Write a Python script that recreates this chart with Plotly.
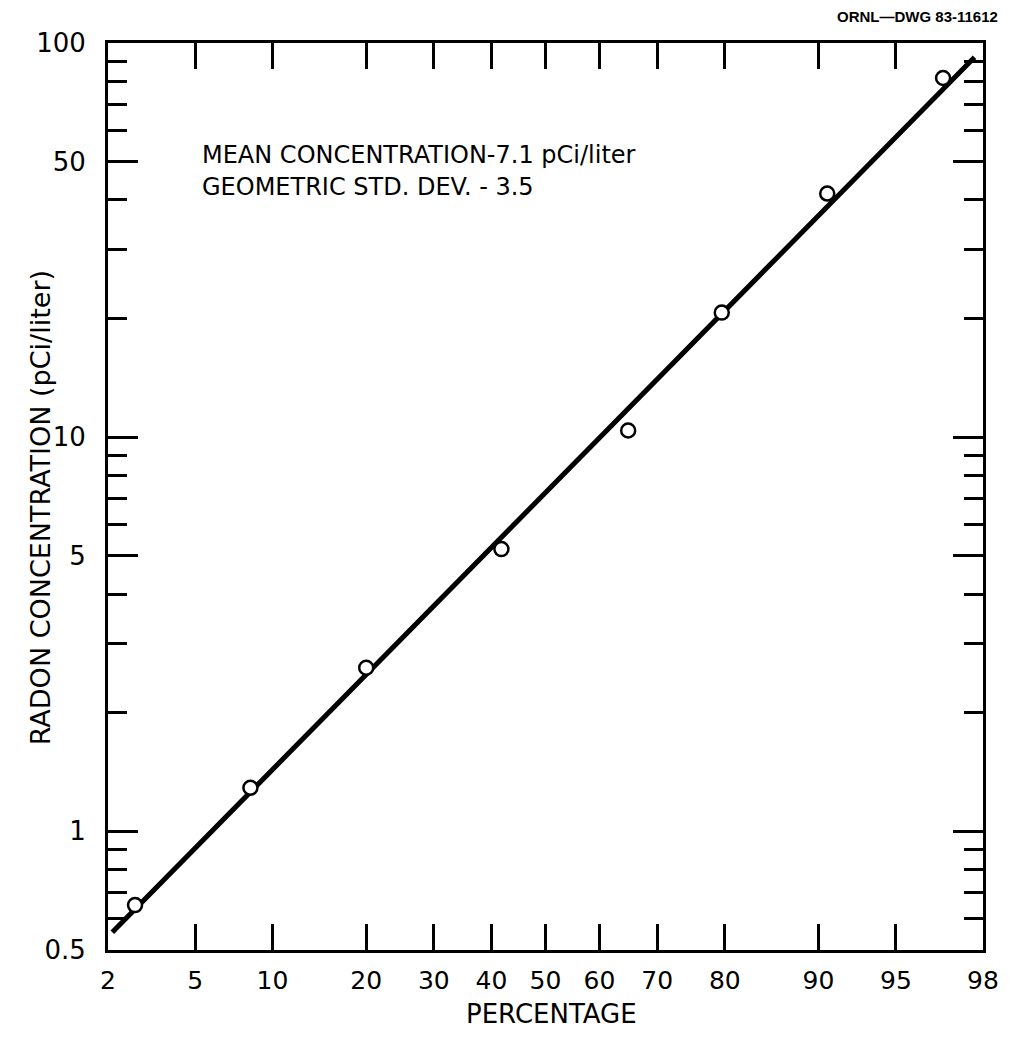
from statistics import NormalDist
import math
import plotly.graph_objects as go

# ---- data ----
pct_ticks = [2, 5, 10, 20, 30, 40, 50, 60, 70, 80, 90, 95, 98]
pct_labels = ["2", "5", "10", "20", "30", "40", "50", "60", "70", "80", "90", "95", "98"]
y_major = [0.5, 1, 5, 10, 50, 100]
y_major_labels = ["0.5", "1", "5", "10", "50", "100"]
y_minor = [0.6, 0.7, 0.8, 0.9, 2, 3, 4, 6, 7, 8, 9, 20, 30, 40, 60, 70, 80, 90]

obs_pct = [2.7, 8.3, 20, 41.8, 65.1, 79.6, 90.7, 96.9]
obs_val = [0.65, 1.29, 2.6, 5.2, 10.4, 20.7, 41.5, 81.5]

fit_pct = [2.1, 97.8]
fit_val = [0.555, 92]

# probability (normal-quantile) scale transform
nd = NormalDist()
def z(p):
    return nd.inv_cdf(p / 100.0)

FONT = "DejaVu Sans"

fig = go.Figure()
fig.add_trace(go.Scatter(
    x=[z(p) for p in fit_pct], y=fit_val, mode="lines",
    line=dict(color="black", width=5), showlegend=False, hoverinfo="skip"))
fig.add_trace(go.Scatter(
    x=[z(p) for p in obs_pct], y=obs_val, mode="markers",
    marker=dict(symbol="circle", size=14, color="white",
                line=dict(color="black", width=2.5)),
    showlegend=False))

fig.update_xaxes(
    range=[z(pct_ticks[0]), z(pct_ticks[-1])],
    tickvals=[z(p) for p in pct_ticks], ticktext=pct_labels,
    ticks="inside", ticklen=26, tickwidth=3, tickcolor="black",
    showline=True, linewidth=3, linecolor="black", mirror="ticks",
    showgrid=False, zeroline=False, automargin=False,
    tickfont=dict(family=FONT, size=25, color="black"),
    ticklabelstandoff=6,
)
fig.update_yaxes(
    type="log", range=[math.log10(0.5), 2],
    tickvals=y_major, ticktext=y_major_labels,
    ticks="inside", ticklen=30, tickwidth=3, tickcolor="black",
    showline=True, linewidth=3, linecolor="black", mirror="ticks",
    showgrid=False, zeroline=False, automargin=False,
    minor=dict(tickvals=y_minor, ticks="inside", ticklen=19, tickwidth=3,
               tickcolor="black", showgrid=False),
    tickfont=dict(family=FONT, size=26, color="black"),
    ticklabelstandoff=14,
)

# axis titles
fig.add_annotation(xref="paper", yref="paper", x=0.507, y=-0.0705,
                   xanchor="center", yanchor="middle", showarrow=False,
                   text="PERCENTAGE",
                   font=dict(family=FONT, size=26, color="black"))
fig.add_annotation(xref="paper", yref="paper", x=-0.0777, y=0.487,
                   xanchor="center", yanchor="middle", showarrow=False,
                   textangle=-90,
                   text="RADON CONCENTRATION (pCi/liter)",
                   font=dict(family=FONT, size=27, color="black"))

# in-plot text
fig.add_annotation(xref="paper", yref="paper", x=0.105, y=0.8765,
                   xanchor="left", yanchor="middle", showarrow=False,
                   text="MEAN CONCENTRATION-7.1 pCi/liter",
                   font=dict(family=FONT, size=24, color="black"))
fig.add_annotation(xref="paper", yref="paper", x=0.105, y=0.8412,
                   xanchor="left", yanchor="middle", showarrow=False,
                   text="GEOMETRIC STD. DEV. - 3.5",
                   font=dict(family=FONT, size=24, color="black"))
fig.add_annotation(xref="paper", yref="paper", x=1.0194, y=1.0287,
                   xanchor="right", yanchor="middle", showarrow=False,
                   text="<b>ORNL\u2014DWG 83-11612</b>",
                   font=dict(family="Liberation Sans", size=15, color="black"))

# page body adds an 8px offset; size/margins compensate so the plot area
# lands where it does in the reference
fig.update_layout(
    width=1003, height=1031,
    margin=dict(l=100, r=28, t=35, b=89),
    paper_bgcolor="white", plot_bgcolor="white",
    font=dict(family=FONT, color="black"),
)

fig.write_html("out.html")
